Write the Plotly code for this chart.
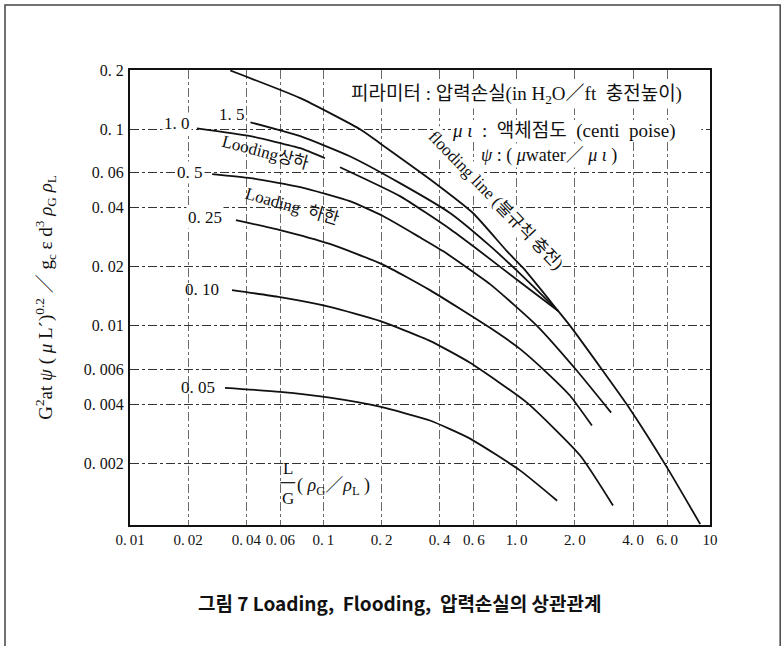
import plotly.graph_objects as go

# Abscissa: L/G (rho_G / rho_L); ordinate: G^2 a t psi (mu_L)^0.2 / g_c eps d^3 rho_G rho_L
x_ticks = [0.01, 0.02, 0.04, 0.06, 0.1, 0.2, 0.4, 0.6, 1.0, 2.0, 4.0, 6.0, 10]
x_ticktext = ["0.\u200901", "0.\u200902", "0.\u200904", "0.\u200906", "0.\u20091", "0.\u20092",
              "0.\u20094", "0.\u20096", "1.\u20090", "2.\u20090", "4.\u20090", "6.\u20090", "10"]
y_ticks = [0.2, 0.1, 0.06, 0.04, 0.02, 0.01, 0.006, 0.004, 0.002]
y_ticktext = ["0. 2", "0. 1", "0. 06", "0. 04", "0. 02", "0. 01", "0. 006", "0. 004", "0. 002"]

# Flooding line (random packing)
flood_x = [0.033, 0.076, 0.155, 0.196, 0.356, 0.594, 0.89, 1.08, 1.64, 1.89, 2.76, 3.77, 6.0, 8.9]
flood_y = [0.199, 0.144, 0.100, 0.085, 0.0557, 0.0375, 0.024, 0.0197, 0.0119, 0.0100, 0.0060, 0.0039, 0.0019, 0.00098]

# Pressure-drop parameter curves (in H2O / ft packing height)
p15_x = [0.042, 0.076, 0.137, 0.249, 0.452, 0.728, 1.10, 1.64]
p15_y = [0.1085, 0.0922, 0.0729, 0.0532, 0.0375, 0.0255, 0.0175, 0.0119]

p10_x = [0.0222, 0.042, 0.076, 0.102, None, 0.122, 0.249, 0.452, 0.623, 1.04, 1.64]
p10_y = [0.101, 0.0922, 0.0801, 0.0712, None, 0.0641, 0.0457, 0.0311, 0.0246, 0.0167, 0.0119]

p05_x = [0.0266, 0.042, 0.076, 0.137, 0.2035, 0.316, 0.416, 0.728, 1.274, 2.05, 3.08]
p05_y = [0.0591, 0.0564, 0.0508, 0.0431, 0.0362, 0.0282, 0.0240, 0.0163, 0.0100, 0.00591, 0.00362]

p025_x = [0.0353, 0.0597, 0.108, 0.2035, 0.356, 0.728, 1.04, 1.435, 1.89, 2.45]
p025_y = [0.0345, 0.0307, 0.0261, 0.0205, 0.0152, 0.00977, 0.00764, 0.00577, 0.00441, 0.00311]

p010_x = [0.0337, 0.0597, 0.108, 0.196, 0.356, 0.574, 1.13, 2.13, 3.15]
p010_y = [0.0152, 0.0140, 0.0125, 0.0106, 0.00839, 0.00649, 0.00407, 0.00219, 0.00122]

p005_x = [0.031, 0.0597, 0.108, 0.196, 0.356, 0.574, 1.04, 1.62]
p005_y = [0.00484, 0.00462, 0.00431, 0.00388, 0.00330, 0.00267, 0.00184, 0.00129]

series = [
    (flood_x, flood_y),
    (p15_x, p15_y),
    (p10_x, p10_y),
    (p05_x, p05_y),
    (p025_x, p025_y),
    (p010_x, p010_y),
    (p005_x, p005_y),
]

SERIF = "Liberation Serif, Noto Sans CJK KR, serif"

fig = go.Figure()
for xs, ys in series:
    fig.add_trace(go.Scatter(
        x=xs, y=ys, mode="lines",
        line=dict(color="#111111", width=1.8, shape="spline", smoothing=0.5),
        connectgaps=False, showlegend=False, hoverinfo="skip",
    ))

fig.update_xaxes(
    type="log", range=[-2, 1],
    tickvals=x_ticks, ticktext=x_ticktext,
    showline=True, linecolor="#111111", linewidth=2, mirror=True,
    showgrid=True, gridcolor="#6a6a6a", gridwidth=1, griddash="dashdot",
    ticks="", tickfont=dict(family=SERIF, size=15, color="#111111"),
    zeroline=False,
)
fig.update_yaxes(
    type="log", range=[-3.013, -0.6985],
    tickvals=y_ticks, ticktext=y_ticktext,
    showline=True, linecolor="#111111", linewidth=2, mirror=True,
    showgrid=True, gridcolor="#333333", gridwidth=1, griddash="dashdot",
    ticks="", ticklabelstandoff=1,
    tickfont=dict(family=SERIF, size=16, color="#111111"),
    zeroline=False,
)

ann = []

def label(text, x, y, size=16, angle=0, bg=None, xanchor="center", family=SERIF):
    d = dict(text=text, x=x, y=y, xref="paper", yref="paper", showarrow=False,
             xanchor=xanchor, yanchor="middle", textangle=angle,
             font=dict(family=family, size=size, color="#111111"))
    if bg:
        d["bgcolor"] = bg
    ann.append(d)

# Curve labels
label("1. 0", 0.081, 0.883, size=17, bg="white")
label("1. 5", 0.176, 0.903, size=17)
label("0. 5", 0.103, 0.774, size=17, bg="white")
label("0. 25", 0.129, 0.675, size=17, bg="white")
label("0. 10", 0.124, 0.518, size=17)
label("0. 05", 0.117, 0.303, size=17)

# Loading limits and flooding line
label("Looding상하", 0.234, 0.819, size=17, angle=15)
label("Loading  하한", 0.281, 0.701, size=17, angle=16)
label("flooding line (불규칙 충전)", 0.631, 0.713, size=17, angle=46, bg="white")

# Parameter notes (drawn over the flooding label)
label("피라미터 : 압력손실(in H<sub>2</sub>O／ft  충전높이)", 0.667, 0.945, size=19, bg="white")
label("<i>μ ι</i>  :  액체점도  (centi  poise)", 0.748, 0.867, size=19)
label("<i>ψ</i> : ( <i>μ</i>water／ <i>μ ι</i> )", 0.722, 0.812, size=18, bg="white")

# Abscissa name drawn as a fraction inside the plot
label("L", 0.272, 0.125, size=17)
label("G", 0.272, 0.058, size=17)
label("( <i>ρ</i><sub>G</sub>／<i>ρ</i><sub>L</sub> )", 0.284, 0.085, size=18, xanchor="left")

# Ordinate name
label("G<sup>2</sup>at <i>ψ</i> ( <i>μ</i> L´)<sup>0.2</sup> ／ g<sub>c</sub> ε d<sup>3</sup> <i>ρ</i><sub>G</sub> <i>ρ</i><sub>L</sub>",
      -0.147, 0.501, size=19, angle=-90)

# Caption
label("<b>그림 7 Loading,  Flooding,  압력손실의 상관관계</b>", 0.466, -0.171, size=19,
      family="Noto Sans CJK KR, sans-serif")

shapes = [
    # white strip behind the viscosity note so grid lines stop there
    dict(type="rect", xref="paper", yref="paper", x0=0.56, x1=0.985, y0=0.845, y1=0.89,
         line=dict(width=0), fillcolor="white", layer="above"),
    # fraction bar
    dict(type="line", xref="paper", yref="paper", x0=0.259, x1=0.285, y0=0.093, y1=0.093,
         line=dict(color="#111111", width=1.2)),
    # outer frame
    dict(type="rect", xref="paper", yref="paper", x0=-0.2155, x1=1.121, y0=-0.30, y1=1.1429,
         line=dict(color="#444444", width=1.5), fillcolor="rgba(0,0,0,0)", layer="below"),
]

fig.update_layout(
    width=781, height=646, autosize=False,
    margin=dict(l=130, r=71, t=70, b=121),
    paper_bgcolor="white", plot_bgcolor="white",
    annotations=ann, shapes=shapes, showlegend=False,
)

fig.write_html("out.html")
